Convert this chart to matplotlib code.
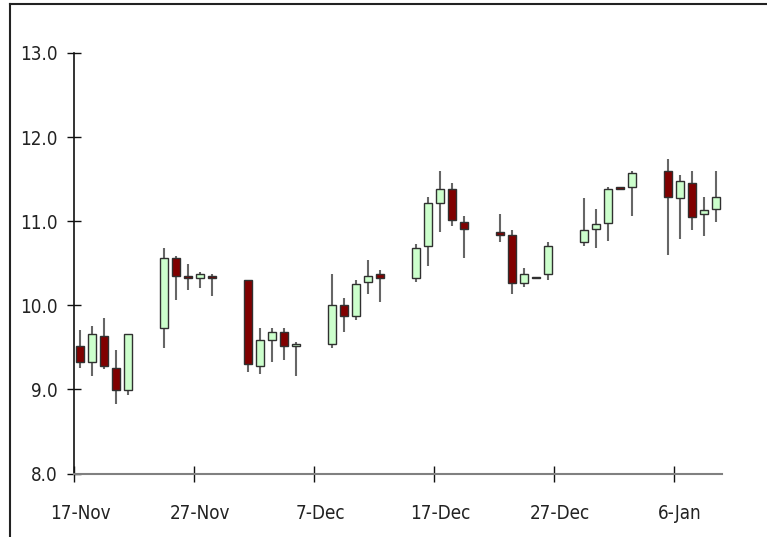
import pandas as pd
import matplotlib
matplotlib.use("Agg")
import matplotlib.pyplot as plt
import matplotlib.dates as mdates
from matplotlib.lines import Line2D

plt.rcParams['font.family'] = ['DejaVu Sans']
plt.rcParams['font.stretch'] = 'condensed'

dates = ['2008-11-17', '2008-11-18', '2008-11-19', '2008-11-20', '2008-11-21',
         '2008-11-24', '2008-11-25', '2008-11-26', '2008-11-27', '2008-11-28',
         '2008-12-01', '2008-12-02', '2008-12-03', '2008-12-04', '2008-12-05',
         '2008-12-08', '2008-12-09', '2008-12-10', '2008-12-11', '2008-12-12',
         '2008-12-15', '2008-12-16', '2008-12-17', '2008-12-18', '2008-12-19',
         '2008-12-22', '2008-12-23', '2008-12-24', '2008-12-25', '2008-12-26',
         '2008-12-29', '2008-12-30', '2008-12-31', '2009-01-01', '2009-01-02',
         '2009-01-05', '2009-01-06', '2009-01-07', '2009-01-08', '2009-01-09']
opens = [9.52, 9.33, 9.64, 9.26, 8.99,
         9.73, 10.56, 10.35, 10.32, 10.35,
         10.30, 9.28, 9.59, 9.68, 9.52,
         9.54, 10.00, 9.87, 10.28, 10.37,
         10.32, 10.70, 11.22, 11.38, 10.99,
         10.87, 10.84, 10.27, 10.34, 10.37,
         10.75, 10.91, 10.98, 11.41, 11.41,
         11.60, 11.27, 11.46, 11.08, 11.15]
highs = [9.71, 9.75, 9.85, 9.47, 9.66,
         10.68, 10.59, 10.49, 10.40, 10.37,
         10.30, 9.73, 9.73, 9.73, 9.56,
         10.37, 10.09, 10.30, 10.54, 10.42,
         10.73, 11.29, 11.60, 11.46, 11.06,
         11.08, 10.89, 10.44, 10.34, 10.75,
         11.27, 11.15, 11.41, 11.41, 11.60,
         11.74, 11.55, 11.60, 11.29, 11.60]
lows = [9.26, 9.16, 9.24, 8.83, 8.93,
        9.49, 10.06, 10.18, 10.20, 10.11,
        9.21, 9.18, 9.33, 9.35, 9.16,
        9.49, 9.68, 9.83, 10.13, 10.04,
        10.28, 10.47, 10.87, 10.94, 10.56,
        10.75, 10.13, 10.22, 10.32, 10.30,
        10.70, 10.68, 10.77, 11.38, 11.06,
        10.60, 10.79, 10.89, 10.82, 10.99]
closes = [9.33, 9.66, 9.28, 8.99, 9.66,
          10.56, 10.35, 10.33, 10.37, 10.32,
          9.30, 9.59, 9.68, 9.52, 9.54,
          10.00, 9.87, 10.25, 10.35, 10.32,
          10.68, 11.22, 11.38, 11.01, 10.91,
          10.84, 10.27, 10.37, 10.32, 10.70,
          10.89, 10.97, 11.38, 11.38, 11.57,
          11.29, 11.48, 11.05, 11.13, 11.29]

tick_dates = ['2008-11-17', '2008-11-27', '2008-12-07', '2008-12-17', '2008-12-27', '2009-01-06']
tick_labels = ['17-Nov', '27-Nov', '7-Dec', '17-Dec', '27-Dec', '6-Jan']

x = mdates.date2num(pd.to_datetime(dates)) + 0.5
df = pd.DataFrame({'x': x, 'o': opens, 'h': highs, 'l': lows, 'c': closes})
up = df[df.c >= df.o]
dn = df[df.c < df.o]

fig = plt.figure(figsize=(7.67, 5.37), dpi=100)
ax = fig.add_axes([74 / 767, 63.5 / 537, 648 / 767, 420.5 / 537])

# wicks, then bodies on top
ax.vlines(df.x, df.l, df.h, color='#666666', linewidth=1.5, zorder=1)
ax.bar(up.x, up.c - up.o, bottom=up.o, width=0.66, color='#ccffcc',
       edgecolor='#303030', linewidth=1.0, zorder=2)
ax.bar(dn.x, dn.o - dn.c, bottom=dn.c, width=0.66, color='#800000',
       edgecolor='#303030', linewidth=1.0, zorder=2)

x0 = mdates.date2num(pd.Timestamp('2008-11-17'))
ax.set_xlim(x0, x0 + 54)
ax.set_ylim(8, 13)

for s in ['top', 'right']:
    ax.spines[s].set_visible(False)
ax.spines['left'].set_color('#111111')
ax.spines['left'].set_linewidth(1.2)
ax.spines['bottom'].set_color('#808080')
ax.spines['bottom'].set_linewidth(1.5)

ax.set_yticks([8, 9, 10, 11, 12, 13])
ax.set_yticklabels(['8.0', '9.0', '10.0', '11.0', '12.0', '13.0'])
ax.tick_params(axis='y', direction='inout', length=10, width=1, color='#111111',
               pad=7, labelsize=13.5, labelcolor='#222222')

# tick marks at day boundaries, labels centred in the day slot
tk = mdates.date2num(pd.to_datetime(tick_dates))
ax.set_xticks(tk)
ax.set_xticklabels([''] * len(tk))
ax.set_xticks(tk + 0.5, minor=True)
ax.set_xticklabels(tick_labels, minor=True)
ax.tick_params(axis='x', which='major', direction='inout', length=11.5, width=1,
               color='#111111')
ax.tick_params(axis='x', which='minor', length=0, pad=22, labelsize=13.5,
               labelcolor='#222222')

# outer frame (left and top edges visible)
fig.add_artist(Line2D([9.5 / 767, 9.5 / 767], [0, 1 - 3.5 / 537],
                      transform=fig.transFigure, color='#222222', linewidth=1.5))
fig.add_artist(Line2D([9.5 / 767, 1], [1 - 3.5 / 537, 1 - 3.5 / 537],
                      transform=fig.transFigure, color='#222222', linewidth=1.5))

fig.savefig('out.png', dpi=100)
